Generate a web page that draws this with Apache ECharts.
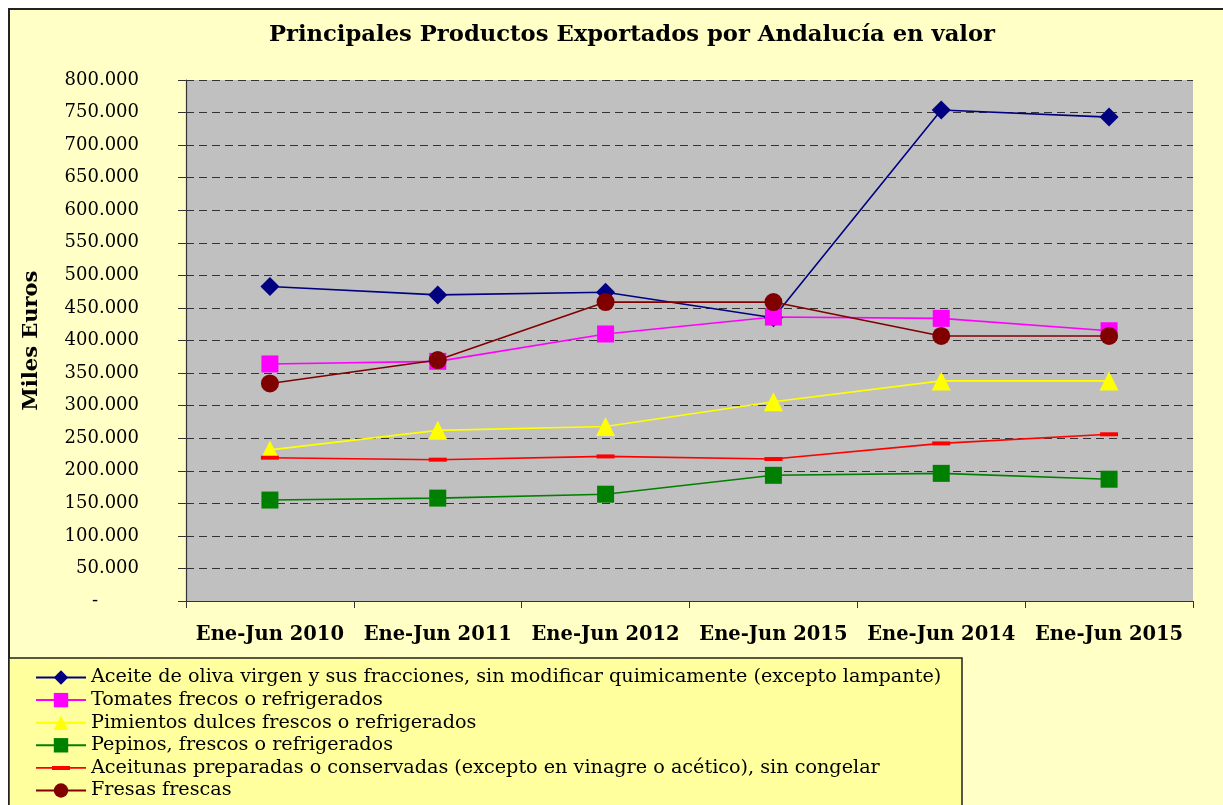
<!DOCTYPE html>
<html>
<head>
<meta charset="utf-8">
<script src="https://cdn.jsdelivr.net/npm/echarts@6/dist/echarts.min.js"></script>
<style>
	html, body { margin: 0; padding: 0; background: #fff; }
	#main { width: 1223px; height: 805px; }
</style>
</head>
<body>
<div id="main"></div>
<script>
var categories = ['Ene-Jun 2010', 'Ene-Jun 2011', 'Ene-Jun 2012', 'Ene-Jun 2015', 'Ene-Jun 2014', 'Ene-Jun 2015 '];

var seriesNames = [
	'Aceite de oliva virgen y sus fracciones, sin modificar quimicamente (excepto lampante)',
	'Tomates frecos o refrigerados',
	'Pimientos dulces frescos o refrigerados',
	'Pepinos, frescos o refrigerados',
	'Aceitunas preparadas o conservadas (excepto en vinagre o acético), sin congelar',
	'Fresas frescas'
];

// miles de euros
var aceite = [483000, 470000, 474000, 435000, 754000, 743000];
var tomates = [364000, 368000, 410000, 436000, 434000, 415000];
var pimientos = [232000, 262000, 268000, 306000, 338000, 338000];
var pepinos = [155000, 158000, 164000, 193000, 196000, 187000];
var aceitunas = [220000, 217000, 222000, 218000, 242000, 256000];
var fresas = [334000, 370000, 459000, 459000, 407000, 407000];

var serif = 'DejaVu Serif';

var myChart = echarts.init(document.getElementById('main'));

function fmt(v) {
	if (v === 0) return '{dash|-}';
	return String(v).replace(/\B(?=(\d{3})+(?!\d))/g, '.');
}

function mkSeries(name, data, color, symbol, size) {
	return {
		name: name,
		type: 'line',
		data: data,
		symbol: symbol,
		symbolSize: size,
		symbolKeepAspect: true,
		lineStyle: { color: color, width: 1.6 },
		itemStyle: { color: color },
		emphasis: { disabled: true }
	};
}

//leyenda: la aceituna lleva un guion en vez de un cuadrado
var legendData = seriesNames.map(function (n, i) {
	if (i === 4) return { name: n, icon: 'path://M0,1.2h50v1.6h-50z M16,0h18v4h-18z' };
	return { name: n };
});

var option = {
	backgroundColor: '#ffffff',
	animation: false,
	title: {
		text: 'Principales Productos Exportados por Andalucía en valor',
		left: 627,
		top: 19,
		textAlign: 'center',
		textStyle: { fontFamily: serif, fontWeight: 'bold', fontSize: 22.7, color: '#000' }
	},
	graphic: [
		{ type: 'rect', z: -10, shape: { x: 9, y: 9, width: 1230, height: 810 },
			style: { fill: '#FFFFC6', stroke: '#222', lineWidth: 2 } },
		{ type: 'rect', z: -5, shape: { x: 9, y: 658, width: 953, height: 160 },
			style: { fill: '#FFFF9E', stroke: '#222', lineWidth: 1.5 } }
	],
	legend: {
		orient: 'vertical',
		left: 35,
		top: 668,
		padding: 0,
		itemWidth: 50,
		itemHeight: 18,
		itemGap: 3.6,
		inactiveColor: '#000',
		textStyle: { fontFamily: serif, fontSize: 19.2, color: '#000' },
		data: legendData
	},
	grid: { left: 186, right: 30, top: 80, bottom: 204, show: true, backgroundColor: '#C0C0C0', borderWidth: 0 },
	xAxis: {
		type: 'category',
		data: categories,
		axisLine: { lineStyle: { color: '#333', width: 1.2 } },
		axisTick: { show: true, length: 7, lineStyle: { color: '#333' } },
		axisLabel: {
			interval: 0,
			margin: 24,
			fontFamily: serif, fontWeight: 'bold', fontSize: 19.5, color: '#000',
			formatter: function (v) { return v.trim(); }
		}
	},
	yAxis: {
		type: 'value',
		min: 0,
		max: 800000,
		interval: 50000,
		name: 'Miles Euros',
		nameLocation: 'middle',
		nameRotate: 90,
		nameGap: 144,
		nameTextStyle: { fontFamily: serif, fontWeight: 'bold', fontSize: 21, color: '#000' },
		axisLine: { show: true, lineStyle: { color: '#333', width: 1.2 } },
		axisTick: { show: true, length: 8, lineStyle: { color: '#333' } },
		axisLabel: {
			margin: 47,
			fontFamily: serif, fontSize: 18, color: '#000',
			formatter: fmt,
			rich: { dash: { fontFamily: serif, fontSize: 18, color: '#000', padding: [0, 41, 0, 0] } }
		},
		splitLine: { show: true, lineStyle: { color: '#333', type: [8, 5], width: 1 } }
	},
	series: [
		mkSeries(seriesNames[0], aceite, '#000080', 'path://M0,10L10,0L20,10L10,20Z', 19),
		mkSeries(seriesNames[1], tomates, '#FF00FF', 'rect', 17),
		mkSeries(seriesNames[2], pimientos, '#FFFF00', 'triangle', 19),
		mkSeries(seriesNames[3], pepinos, '#008000', 'rect', 17),
		mkSeries(seriesNames[4], aceitunas, '#FF0000', 'path://M0,0h18v4h-18z', 18),
		mkSeries(seriesNames[5], fresas, '#800000', 'circle', 18)
	]
};

myChart.setOption(option);
</script>
</body>
</html>
